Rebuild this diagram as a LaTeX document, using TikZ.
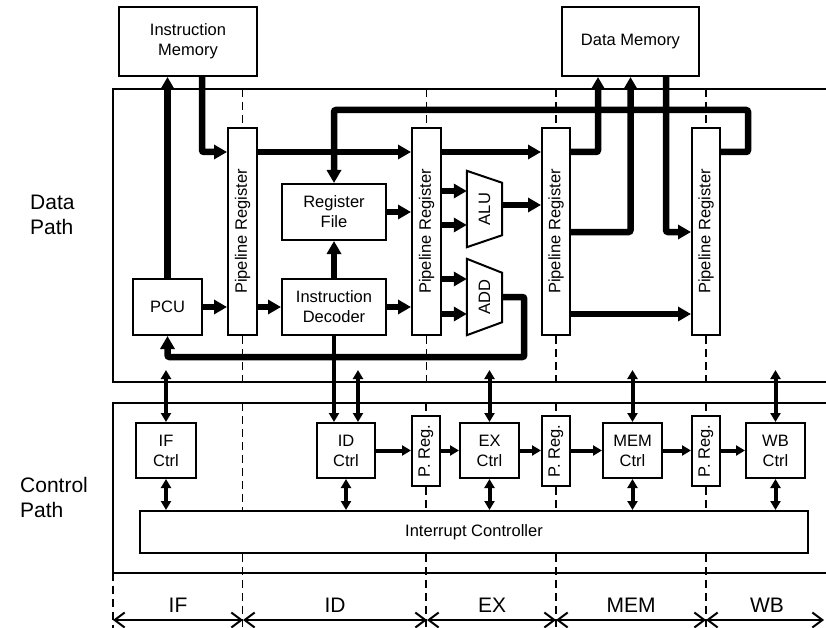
\documentclass[tikz,border=0pt]{standalone}
\usepackage{fontspec}
\setmainfont{Liberation Sans}
\usepackage{graphicx}
\usetikzlibrary{arrows.meta,calc}
\begin{document}
\begin{tikzpicture}[x=1pt,y=-1pt,
  box/.style={draw, line width=2pt, inner sep=0pt, align=center, font=\fontsize{16.5}{20}\selectfont},
  plain/.style={inner sep=0pt, align=center, font=\fontsize{16.5}{20}\selectfont},
  bus/.style={line width=6.5pt, rounded corners=2pt, -{Triangle[length=13pt,width=14pt]}},
  ctl/.style={line width=4pt, -{Triangle[length=9pt,width=10pt]}},
  ctlb/.style={line width=4pt, {Triangle[length=9pt,width=10pt]}-{Triangle[length=9pt,width=10pt]}},
  frame/.style={line width=2pt},
  stage/.style={line width=1.5pt, dash pattern=on 8pt off 5pt},
  dim/.style={line width=2pt, {Straight Barb[length=10pt,width=15pt]}-{Straight Barb[length=10pt,width=15pt]}},
  lbl/.style={font=\fontsize{21}{25}\selectfont, align=left, inner sep=0pt},
  stg/.style={font=\fontsize{21}{25}\selectfont, inner sep=0pt},
]
\useasboundingbox (0,0) rectangle (826,628);

% row / level coordinates
\coordinate (dpTop) at (0,89);
\coordinate (dpBot) at (0,382);
\coordinate (cpTop) at (0,403);
\coordinate (cpBot) at (0,573);
\coordinate (imgBot) at (0,628);
\coordinate (r0) at (0,110);
\coordinate (r1) at (0,152);
\coordinate (r2) at (0,232);
\coordinate (r3) at (0,314);
\coordinate (cUp) at (0,370);

% frames (open on the right)
\draw[frame] (826,89) -- (113,89) -- (113,382) -- (826,382);
\draw[frame] (826,403) -- (113,403) -- (113,573) -- (826,573);

% memories
\node[box, minimum width=138pt, minimum height=69pt] (im) at (188,41.5) {Instruction\\Memory};
\node[box, minimum width=137pt, minimum height=69pt] (dm) at (630.5,41.5) {Data Memory};

% pipeline registers
\node[box, minimum width=29pt, minimum height=207pt] (pr1) at (242.5,231.5) {\rotatebox{90}{Pipeline Register}};
\node[box, minimum width=29pt, minimum height=207pt] (pr2) at (426.5,231.5) {\rotatebox{90}{Pipeline Register}};
\node[box, minimum width=28pt, minimum height=207pt] (pr3) at (556,231.5) {\rotatebox{90}{Pipeline Register}};
\node[box, minimum width=28pt, minimum height=207pt] (pr4) at (706,231.5) {\rotatebox{90}{Pipeline Register}};

% data path units
\node[box, minimum width=69pt, minimum height=56pt] (pcu) at (167.5,307) {PCU};
\node[box, minimum width=104pt, minimum height=56pt] (rf) at (334,212) {Register\\File};
\node[box, minimum width=104pt, minimum height=56pt] (idec) at (334,307) {Instruction\\Decoder};
\node[plain, minimum width=35pt, minimum height=76pt] (alu) at (484.5,209) {\rotatebox{90}{ALU}};
\node[plain, minimum width=35pt, minimum height=76pt] (add) at (484.5,297) {\rotatebox{90}{ADD}};
\draw[line width=2pt] (alu.north west) -- ($(alu.north east)+(0,12)$) -- ($(alu.south east)+(0,-12)$) -- (alu.south west) -- cycle;
\draw[line width=2pt] (add.north west) -- ($(add.north east)+(0,14)$) -- ($(add.south east)+(0,-13)$) -- (add.south west) -- cycle;

% control path units
\node[box, minimum width=60pt, minimum height=55pt] (ifc) at (166,450.5) {IF\\Ctrl};
\node[box, minimum width=58pt, minimum height=55pt] (idc) at (346,450.5) {ID\\Ctrl};
\node[box, minimum width=59pt, minimum height=55pt] (exc) at (489.5,450.5) {EX\\Ctrl};
\node[box, minimum width=59pt, minimum height=55pt] (memc) at (632.5,450.5) {MEM\\Ctrl};
\node[box, minimum width=59pt, minimum height=55pt] (wbc) at (775.5,450.5) {WB\\Ctrl};
\node[box, minimum width=28pt, minimum height=70pt] (pg1) at (426,451) {\rotatebox{90}{P. Reg.}};
\node[box, minimum width=28pt, minimum height=70pt] (pg2) at (556,451) {\rotatebox{90}{P. Reg.}};
\node[box, minimum width=28pt, minimum height=70pt] (pg3) at (706,451) {\rotatebox{90}{P. Reg.}};
\node[box, minimum width=668pt, minimum height=42pt] (ic) at (474,532) {Interrupt Controller};

% stage boundaries (dashed)
\foreach \p in {pr1,pr2,pr3,pr4} {
  \draw[stage] (\p.north |- dpTop) -- (\p.north);
  \draw[stage] (\p.south) -- (\p.south |- dpBot);
}
\draw[stage] (pr1.south |- cpTop) -- (pr1.south |- ic.north);
\draw[stage] (pr1.south |- ic.south) -- (pr1.south |- imgBot);
\foreach \p in {pg1,pg2,pg3} {
  \draw[stage] (\p.north |- cpTop) -- (\p.north);
  \draw[stage] (\p.south) -- (\p.south |- ic.north);
  \draw[stage] (\p.south |- ic.south) -- (\p.south |- imgBot);
}
\coordinate (lb) at (113,573);
\draw[stage] (lb) -- (lb |- imgBot);

% data path buses
\path ([xshift=14pt]im.south) coordinate (imo);
\draw[bus] (imo) |- (pr1.west |- r1);
\draw[bus] (pcu.north) -- (pcu.north |- im.south);
\draw[bus] (pr1.east |- r1) -- (pr2.west |- r1);
\draw[bus] (pr2.east |- r1) -- (pr3.west |- r1);
\path ([xshift=-32.5pt]dm.south) coordinate (dmi1);
\path ([xshift=35.5pt]dm.south) coordinate (dmo);
\draw[bus] (pr3.east |- r1) -| (dmi1);
\draw[bus] (pr3.east |- r2) -| (dm.south);
\draw[bus] (dmo) |- (pr4.west |- r2);
\draw[bus] (pr3.east |- r3) -- (pr4.west |- r3);
\draw[bus] (pr4.east |- r1) -- ++(27,0) |- (rf.north |- r0) -- (rf.north);
\draw[bus] (pcu.east) -- (pr1.west |- pcu.east);
\draw[bus] (pr1.east |- idec.west) -- (idec.west);
\draw[bus] (idec.east) -- (pr2.west |- idec.east);
\draw[bus] (idec.north) -- (rf.south);
\draw[bus] (rf.east) -- (pr2.west |- rf.east);
\path (alu.west) ++(0,-18) coordinate (a1) ++(0,34) coordinate (a2);
\path (add.west) ++(0,-18) coordinate (d1) ++(0,35) coordinate (d2);
\draw[bus] (pr2.east |- a1) -- (a1);
\draw[bus] (pr2.east |- a2) -- (a2);
\draw[bus] (pr2.east |- d1) -- (d1);
\draw[bus] (pr2.east |- d2) -- (d2);
\path ([yshift=4pt]alu.east) coordinate (ao);
\draw[bus] (ao) -- (pr3.west |- ao);
\draw[bus] (add.east) -- ++(22,0) -- ++(0,60) -| (pcu.south);

% data path <-> control path
\draw[ctl] (idec.south) -- (idec.south |- idc.north);
\path ([xshift=12pt]idc.north) coordinate (idn);
\draw[ctlb] (ifc.north |- cUp) -- (ifc.north);
\draw[ctlb] (idn |- cUp) -- (idn);
\draw[ctlb] (exc.north |- cUp) -- (exc.north);
\draw[ctlb] (memc.north |- cUp) -- (memc.north);
\draw[ctlb] (wbc.north |- cUp) -- (wbc.north);

% controllers <-> interrupt controller
\foreach \c in {ifc,idc,exc,memc,wbc} {
  \draw[ctlb] (\c.south) -- (\c.south |- ic.north);
}

% control pipeline
\draw[ctl] (idc.east) -- (pg1.west |- idc.east);
\draw[ctl] (pg1.east |- exc.west) -- (exc.west);
\draw[ctl] (exc.east) -- (pg2.west |- exc.east);
\draw[ctl] (pg2.east |- memc.west) -- (memc.west);
\draw[ctl] (memc.east) -- (pg3.west |- memc.east);
\draw[ctl] (pg3.east |- wbc.west) -- (wbc.west);

% side labels
\node[lbl, anchor=west] (ldp) at (30,215) {Data\\Path};
\node[lbl, anchor=west] (lcp) at (20,497) {Control\\Path};

% stage extents
\coordinate (b0) at (113,620);
\coordinate (b1) at (243,620);
\coordinate (b2) at (427,620);
\coordinate (b3) at (556,620);
\coordinate (b4) at (706,620);
\coordinate (b5) at (824,620);
\draw[dim] (b0) -- (b1);
\draw[dim] (b1) -- (b2);
\draw[dim] (b2) -- (b3);
\draw[dim] (b3) -- (b4);
\draw[dim] (b4) -- (b5);
\node[stg] (sif) at (178,605) {IF};
\node[stg] (sid) at (335,605) {ID};
\node[stg] (sex) at (492,605) {EX};
\node[stg] (smem) at (631,605) {MEM};
\node[stg] (swb) at (767,605) {WB};
\end{tikzpicture}
\end{document}
